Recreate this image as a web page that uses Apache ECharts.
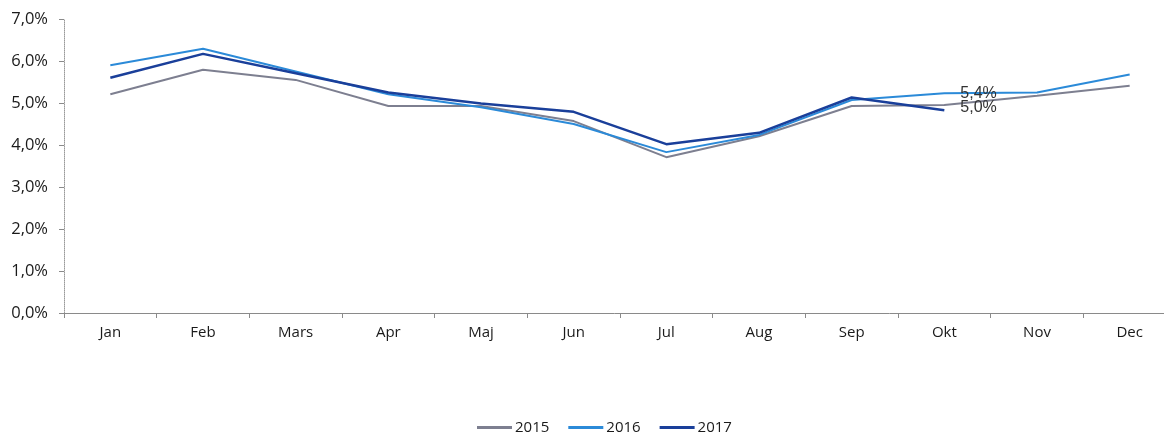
<!DOCTYPE html>
<html>
<head>
<meta charset="utf-8">
<script src="https://cdn.jsdelivr.net/npm/echarts@6/dist/echarts.min.js"></script>
<style>html,body{margin:0;padding:0;background:#fff}#c{width:1164px;height:432px}</style>
</head>
<body>
<div id="c"></div>
<script>
var months = ['Jan','Feb','Mars','Apr','Maj','Jun','Jul','Aug','Sep','Okt','Nov','Dec'];
var y2015 = [5.21, 5.79, 5.55, 4.93, 4.93, 4.57, 3.71, 4.21, 4.93, 4.95, 5.17, 5.41];
var y2016 = [5.90, 6.29, 5.75, 5.21, 4.90, 4.50, 3.83, 4.24, 5.07, 5.23, 5.25, 5.68];
var y2017 = [5.60, 6.17, 5.71, 5.25, 4.99, 4.79, 4.02, 4.29, 5.13, 4.83, null, null];
var yTicks = [0, 1, 2, 3, 4, 5, 6, 7];
var okt2016Label = '5,4%';
var okt2017Label = '5,0%';

var fontFam = '"Open Sans", sans-serif';
function pct(v){ return v.toFixed(1).replace('.', ',') + '%'; }
function withLabel(arr, idx, text, dy){
  return arr.map(function(v, i){
    if (i === idx) {
      return {value: v, label: {show: true, position: 'right', distance: 16, offset: [0, dy], formatter: text,
        fontSize: 16, color: '#333', fontFamily: 'Liberation Sans, Arial, sans-serif'}};
    }
    return v;
  });
}

var chart = echarts.init(document.getElementById('c'));
chart.setOption({
  animation: false,
  backgroundColor: '#fff',
  grid: {left: 64, top: 19, height: 294, width: 1112, containLabel: false, outerBoundsMode: 'none'},
  legend: {
    top: 420, left: 477, padding: 0,
    icon: 'rect', itemWidth: 35, itemHeight: 3, itemGap: 19,
    textStyle: {fontSize: 15, color: '#1a1a1a', fontFamily: fontFam, padding: [0, 0, 0, -2]},
    data: ['2015', '2016', '2017']
  },
  xAxis: {
    type: 'category', data: months, boundaryGap: true,
    axisLine: {lineStyle: {color: '#8a8a8a', width: 1}},
    axisTick: {show: true, length: 5, lineStyle: {color: '#8a8a8a'}},
    axisLabel: {fontSize: 15, color: '#1a1a1a', fontFamily: fontFam, margin: 12}
  },
  yAxis: {
    type: 'value', min: 0, max: 7, interval: 1,
    axisLine: {show: true, lineStyle: {color: '#9a9a9a', width: 1, type: 'dotted'}},
    axisTick: {show: true, length: 5, lineStyle: {color: '#8a8a8a'}},
    splitLine: {show: false},
    axisLabel: {fontSize: 16.5, color: '#1a1a1a', fontFamily: fontFam, margin: 16,
      formatter: function(v){ return yTicks.indexOf(v) >= 0 ? pct(v) : ''; }}
  },
  series: [
    {name: '2015', type: 'line', data: y2015, symbol: 'circle', symbolSize: 0, showSymbol: true,
      lineStyle: {color: '#7d7f90', width: 2}, itemStyle: {color: '#7d7f90'}},
    {name: '2016', type: 'line', data: withLabel(y2016, 9, okt2016Label, 0), symbol: 'circle', symbolSize: 0, showSymbol: true,
      lineStyle: {color: '#2b8ad8', width: 2}, itemStyle: {color: '#2b8ad8'}},
    {name: '2017', type: 'line', data: withLabel(y2017, 9, okt2017Label, -3), symbol: 'circle', symbolSize: 0, showSymbol: true,
      lineStyle: {color: '#1a3f9a', width: 2.5}, itemStyle: {color: '#1a3f9a'}}
  ]
});
</script>
</body>
</html>
